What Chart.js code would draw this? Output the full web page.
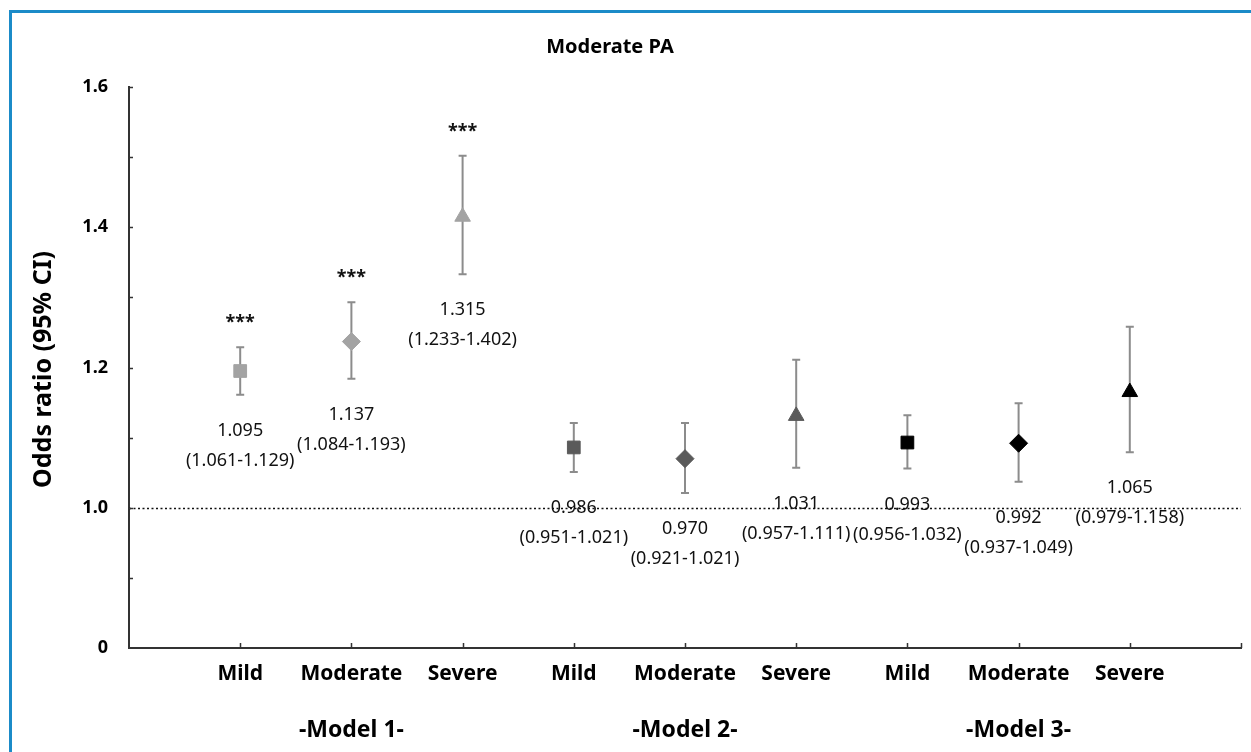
<!DOCTYPE html>
<html><head><meta charset="utf-8">
<script src="https://cdn.jsdelivr.net/npm/chart.js@4.4.1/dist/chart.umd.min.js"></script>
<style>html,body{margin:0;padding:0;background:#fff;overflow:hidden}#wrap{width:1251px;height:752px;position:relative}</style>
</head><body><div id="wrap"><canvas id="c" width="1251" height="752"></canvas></div>
<script>
// ---- data ----
const categories = ['Mild','Moderate','Severe','Mild','Moderate','Severe','Mild','Moderate','Severe'];
const models = ['-Model 1-','-Model 2-','-Model 3-'];
// plotted positions of the markers on the drawn axis
const oddsPlotted = [1.195,1.237,1.415, 1.086,1.070,1.131, 1.093,1.092,1.165];
const ciLowPlotted = [1.161,1.184,1.333, 1.051,1.021,1.057, 1.056,1.037,1.079];
const ciHighPlotted = [1.229,1.293,1.502, 1.121,1.121,1.211, 1.132,1.149,1.258];
// printed annotations
const orText = ['1.095','1.137','1.315','0.986','0.970','1.031','0.993','0.992','1.065'];
const ciText = ['(1.061-1.129)','(1.084-1.193)','(1.233-1.402)','(0.951-1.021)','(0.921-1.021)','(0.957-1.111)','(0.956-1.032)','(0.937-1.049)','(0.979-1.158)'];
const sigText = ['***','***','***','','','','','',''];
const yTickValues = [0.8,1.0,1.2,1.4,1.6];
const yTickLabels = ['0','1.0','1.2','1.4','1.6'];
const yMinorValues = [0.9,1.1,1.3,1.5];
const refValue = 1.0;

const FONT = "'Noto Sans', 'DejaVu Sans', sans-serif";
const markerColors = ['#a3a3a3','#5a5a5a','#000000'];
const shapes = ['rect','rectRot','triangle'];
const barColor = '#8c8c8c';

const datasets = models.map((m, mi) => ({
  label: m,
  data: [0,1,2].map(k => ({x: mi*3 + k + 1, y: oddsPlotted[mi*3 + k]})),
  pointStyle: shapes,
  pointRadius: 9,
  pointHoverRadius: 9,
  backgroundColor: markerColors[mi],
  borderColor: markerColors[mi],
  borderWidth: 1,
  showLine: false
}));

const decor = {
  id: 'decor',
  beforeDraw(chart) {
    const ctx = chart.ctx;
    ctx.save();
    ctx.fillStyle = '#fff';
    ctx.fillRect(0, 0, chart.width, chart.height);
    ctx.fillStyle = '#1b8bc8';
    ctx.fillRect(9, 10, chart.width - 9, 3);
    ctx.fillRect(9, 10, 3, chart.height - 10);
    ctx.restore();
  },
  beforeDatasetsDraw(chart) {
    const {ctx, chartArea: a, scales: {x, y}} = chart;
    ctx.save();
    // reference line
    const ry = Math.round(y.getPixelForValue(refValue)) + 0.5;
    ctx.setLineDash([2, 2.5]);
    ctx.strokeStyle = '#111';
    ctx.lineWidth = 1.5;
    ctx.beginPath(); ctx.moveTo(a.left, ry); ctx.lineTo(a.right, ry); ctx.stroke();
    ctx.setLineDash([]);
    // error bars
    ctx.strokeStyle = barColor;
    ctx.lineWidth = 2;
    for (let i = 0; i < oddsPlotted.length; i++) {
      const px = x.getPixelForValue(i + 1);
      const lo = y.getPixelForValue(ciLowPlotted[i]);
      const hi = y.getPixelForValue(ciHighPlotted[i]);
      ctx.beginPath();
      ctx.moveTo(px, lo); ctx.lineTo(px, hi);
      ctx.moveTo(px - 4, lo); ctx.lineTo(px + 4, lo);
      ctx.moveTo(px - 4, hi); ctx.lineTo(px + 4, hi);
      ctx.stroke();
    }
    // tick marks on axes
    ctx.strokeStyle = '#333';
    ctx.lineWidth = 1.5;
    ctx.beginPath();
    for (let k = 1; k <= 10; k++) {
      const px = Math.round(x.getPixelForValue(k)) + 0.5;
      ctx.moveTo(px, a.bottom); ctx.lineTo(px, a.bottom - 5);
    }
    yTickValues.concat(yMinorValues).forEach(v => {
      if (v === yTickValues[0]) return;
      const py = Math.round(y.getPixelForValue(v)) + 0.5;
      ctx.moveTo(a.left, py); ctx.lineTo(a.left + 4, py);
    });
    ctx.stroke();
    ctx.restore();
  },
  afterDatasetsDraw(chart) {
    const {ctx, chartArea: a, scales: {x, y}} = chart;
    ctx.save();
    ctx.fillStyle = '#111';
    ctx.textAlign = 'center';
    ctx.textBaseline = 'middle';
    for (let i = 0; i < oddsPlotted.length; i++) {
      const px = x.getPixelForValue(i + 1);
      const lo = y.getPixelForValue(ciLowPlotted[i]);
      const hi = y.getPixelForValue(ciHighPlotted[i]);
      ctx.font = `18px ${FONT}`;
      ctx.fillText(orText[i], px, lo + 36);
      ctx.fillText(ciText[i], px, lo + 66);
      if (sigText[i]) {
        ctx.font = `bold 18px ${FONT}`;
        ctx.textBaseline = 'alphabetic';
        ctx.fillText(sigText[i], px, hi - 27 + 8);
        ctx.textBaseline = 'middle';
      }
    }
    // model group labels
    ctx.fillStyle = '#000';
    ctx.font = `bold 23px ${FONT}`;
    models.forEach((m, mi) => {
      ctx.fillText(m, x.getPixelForValue(mi * 3 + 2), 730);
    });
    // title
    ctx.font = `bold 20px ${FONT}`;
    ctx.fillText('Moderate PA', 610, 47);
    // y title
    ctx.translate(44, 488);
    ctx.rotate(-Math.PI / 2);
    ctx.textAlign = 'left';
    ctx.font = `bold 25px ${FONT}`;
    ctx.fillText('Odds ratio (95% CI)', 0, 0);
    ctx.restore();
  }
};

new Chart(document.getElementById('c'), {
  type: 'scatter',
  data: { datasets },
  options: {
    responsive: false,
    animation: false,
    devicePixelRatio: 1,
    layout: { padding: { left: 0, top: 87, right: 10, bottom: 0 } },
    plugins: { legend: { display: false }, tooltip: { enabled: false }, title: { display: false } },
    scales: {
      x: {
        type: 'linear', min: 0, max: 10,
        grid: { display: false, drawTicks: false },
        border: { display: true, color: '#333', width: 2 },
        afterBuildTicks(s) { s.ticks = categories.map((c, i) => ({ value: i + 1 })); },
        afterFit(s) { s.height = 104; },
        ticks: {
          autoSkip: false, maxRotation: 0, padding: 13, color: '#000',
          font: { family: FONT, size: 21, weight: 'bold' },
          callback: (v) => categories[Math.round(v) - 1] || ''
        }
      },
      y: {
        type: 'linear', min: 0.8, max: 1.6,
        grid: { display: false, drawTicks: false },
        border: { display: true, color: '#333', width: 2 },
        afterBuildTicks(s) { s.ticks = yTickValues.map(v => ({ value: v })); },
        afterFit(s) { s.width = 129; },
        ticks: {
          padding: 21, color: '#000',
          font: { family: FONT, size: 18, weight: 'bold' },
          callback: (v) => { const i = yTickValues.findIndex(t => Math.abs(t - v) < 1e-6); return i >= 0 ? yTickLabels[i] : ''; }
        }
      }
    }
  },
  plugins: [decor]
});
</script></body></html>
